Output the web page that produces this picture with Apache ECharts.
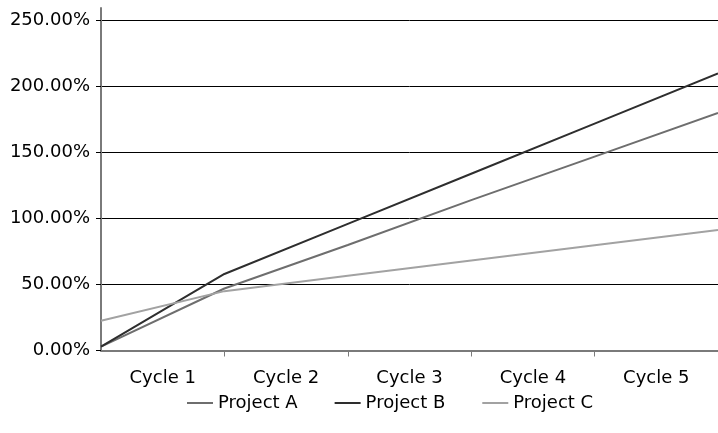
<!DOCTYPE html>
<html>
<head>
<meta charset="utf-8">
<script src="https://cdn.jsdelivr.net/npm/echarts@6/dist/echarts.min.js"></script>
<style>
html,body{margin:0;padding:0;background:#fff;}
#main{width:718px;height:433px;}
</style>
</head>
<body>
<div id="main"></div>
<script>
var categories = ['Cycle 1', 'Cycle 2', 'Cycle 3', 'Cycle 4', 'Cycle 5'];
var pointSlots = ['0', '1', '2', '3', '4', '5'];
var projectA = [3, 47, 80, 114, 147, 180];
var projectB = [3, 58, 96, 134, 172, 210];
var projectC = [22.5, 45, 56.6, 68.2, 79.8, 91.4];
var seriesNames = ['Project A', 'Project B', 'Project C'];
var yTicks = { min: 0, max: 250, interval: 50 };

var FONT = 'DejaVu Sans';
var chart = echarts.init(document.getElementById('main'), null, { renderer: 'canvas' });
var option = {
  backgroundColor: '#ffffff',
  animation: false,
  grid: [
    { left: 101, right: 0, top: 20.7, bottom: 82.5, containLabel: false },
    { left: 101, right: 0, top: 8, bottom: 82.5, containLabel: false }
  ],
  legend: {
    data: seriesNames,
    left: 182,
    top: 389,
    itemWidth: 26,
    itemHeight: 2,
    itemGap: 37,
    icon: 'rect',
    textStyle: { fontFamily: FONT, fontSize: 18, color: '#000' }
  },
  xAxis: [
    {
      type: 'category', gridIndex: 0, data: categories, boundaryGap: true,
      axisLine: { show: true, lineStyle: { color: '#7a7a7a', width: 2 } },
      axisTick: { show: true, length: 6, interval: function (index) { return index > 0; },
        lineStyle: { color: '#7a7a7a', width: 1 } },
      axisLabel: { fontFamily: FONT, fontSize: 18, color: '#000', margin: 19 },
      splitLine: { show: false }
    },
    {
      type: 'category', gridIndex: 0, data: pointSlots, boundaryGap: false,
      show: false
    },
    {
      type: 'category', gridIndex: 1, data: categories, show: false
    }
  ],
  yAxis: [
    {
      type: 'value', gridIndex: 0, min: yTicks.min, max: yTicks.max, interval: yTicks.interval,
      axisLine: { show: false },
      axisTick: { show: true, length: 5, lineStyle: { color: '#000', width: 1 } },
      axisLabel: {
        fontFamily: FONT, fontSize: 18, color: '#000', margin: 11,
        formatter: function (v) { return v.toFixed(2) + '%'; }
      },
      splitLine: { show: true, lineStyle: { color: '#000', width: 1 } }
    },
    {
      type: 'value', gridIndex: 1, min: 0, max: 1,
      axisLine: { show: true, lineStyle: { color: '#7a7a7a', width: 2 } },
      axisTick: { show: false }, axisLabel: { show: false }, splitLine: { show: false }
    }
  ],
  series: [
    { name: seriesNames[0], type: 'line', xAxisIndex: 1, yAxisIndex: 0, data: projectA,
      symbol: 'none', lineStyle: { color: '#6e6e6e', width: 2 }, itemStyle: { color: '#6e6e6e' }, z: 3 },
    { name: seriesNames[1], type: 'line', xAxisIndex: 1, yAxisIndex: 0, data: projectB,
      symbol: 'none', lineStyle: { color: '#2e2e2e', width: 2 }, itemStyle: { color: '#2e2e2e' }, z: 3 },
    { name: seriesNames[2], type: 'line', xAxisIndex: 1, yAxisIndex: 0, data: projectC,
      symbol: 'none', lineStyle: { color: '#a2a2a2', width: 2 }, itemStyle: { color: '#a2a2a2' }, z: 3 }
  ]
};
chart.setOption(option);
</script>
</body>
</html>
